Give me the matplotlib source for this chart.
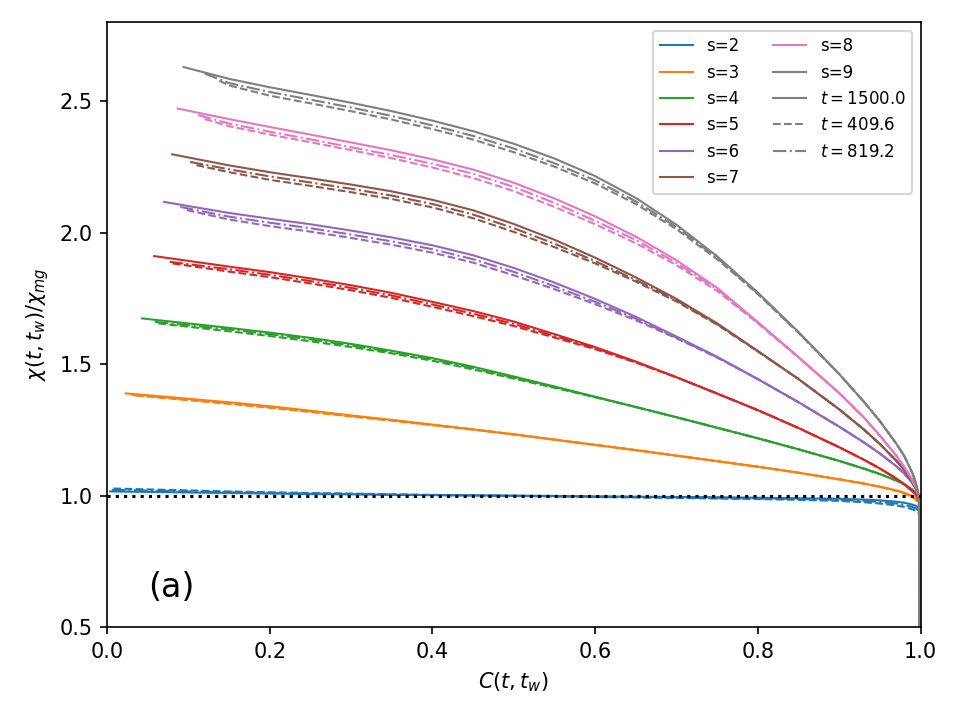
import numpy as np
import matplotlib
matplotlib.use('Agg')
import matplotlib.pyplot as plt
from matplotlib.lines import Line2D

# ---------------- data ----------------
s_values = [2, 3, 4, 5, 6, 7, 8, 9]
t_labels = ['$t = 1500.0$', '$t = 409.6$', '$t = 819.2$']

# common C(t,t_w) grid shared by all curves (after each curve's own start point)
C_grid = [0.15, 0.2, 0.25, 0.3, 0.35, 0.4, 0.45, 0.5, 0.55, 0.6, 0.65, 0.7, 0.75, 0.8,
          0.85, 0.9, 0.93, 0.95, 0.97, 0.98, 0.99, 0.995, 0.998, 0.999]

# start points, order [t=1500, t=819.2, t=409.6]
start_C_s2 = [0.004, 0.006, 0.008]
start_chi_s2 = [1.016, 1.022, 1.027]
start_C_s3 = [0.023, 0.030, 0.035]
start_chi_s3 = [1.389, 1.384, 1.381]
start_C_s4 = [0.043, 0.059, 0.063]
start_chi_s4 = [1.674, 1.661, 1.655]
start_C_s5 = [0.058, 0.077, 0.081]
start_chi_s5 = [1.911, 1.889, 1.883]
start_C_s6 = [0.070, 0.090, 0.098]
start_chi_s6 = [2.117, 2.098, 2.086]
start_C_s7 = [0.080, 0.102, 0.110]
start_chi_s7 = [2.298, 2.269, 2.257]
start_C_s8 = [0.087, 0.112, 0.120]
start_chi_s8 = [2.472, 2.447, 2.432]
start_C_s9 = [0.094, 0.120, 0.138]
start_chi_s9 = [2.630, 2.605, 2.578]

chi_s2_t1500 = [1.010, 1.008, 1.006, 1.005, 1.003, 1.002, 1.001, 1.000, 0.999, 0.997, 0.996, 0.995, 0.994, 0.992, 0.990, 0.988, 0.985, 0.982, 0.977, 0.973, 0.966, 0.960, 0.952, 0.0]
chi_s2_t819 = [1.013, 1.010, 1.008, 1.006, 1.004, 1.002, 1.001, 0.999, 0.998, 0.996, 0.995, 0.993, 0.991, 0.989, 0.987, 0.984, 0.980, 0.976, 0.970, 0.965, 0.957, 0.950, 0.942, 0.0]
chi_s2_t410 = [1.016, 1.013, 1.010, 1.008, 1.005, 1.003, 1.001, 0.999, 0.997, 0.995, 0.993, 0.991, 0.989, 0.987, 0.984, 0.980, 0.975, 0.970, 0.963, 0.957, 0.948, 0.940, 0.932, 0.0]

chi_s3_t1500 = [1.355, 1.340, 1.323, 1.305, 1.288, 1.270, 1.252, 1.233, 1.213, 1.193, 1.173, 1.152, 1.131, 1.110, 1.087, 1.062, 1.046, 1.034, 1.020, 1.011, 0.998, 0.988, 0.978, 0.0]
chi_s3_t819 = [1.352, 1.337, 1.321, 1.303, 1.287, 1.269, 1.252, 1.233, 1.213, 1.193, 1.173, 1.152, 1.131, 1.110, 1.087, 1.062, 1.046, 1.034, 1.020, 1.010, 0.996, 0.985, 0.975, 0.0]
chi_s3_t410 = [1.349, 1.334, 1.318, 1.301, 1.285, 1.268, 1.251, 1.233, 1.213, 1.193, 1.173, 1.152, 1.131, 1.110, 1.087, 1.062, 1.046, 1.033, 1.018, 1.008, 0.994, 0.982, 0.972, 0.0]

chi_s4_t1500 = [1.638, 1.620, 1.600, 1.577, 1.551, 1.523, 1.490, 1.453, 1.415, 1.376, 1.337, 1.298, 1.258, 1.218, 1.176, 1.132, 1.103, 1.082, 1.058, 1.043, 1.022, 1.005, 0.990, 0.0]
chi_s4_t819 = [1.632, 1.614, 1.594, 1.571, 1.546, 1.518, 1.485, 1.449, 1.413, 1.375, 1.337, 1.298, 1.258, 1.218, 1.176, 1.132, 1.103, 1.082, 1.058, 1.043, 1.022, 1.005, 0.990, 0.0]
chi_s4_t410 = [1.625, 1.607, 1.587, 1.565, 1.541, 1.513, 1.480, 1.445, 1.410, 1.374, 1.337, 1.298, 1.258, 1.218, 1.176, 1.132, 1.103, 1.082, 1.058, 1.043, 1.022, 1.005, 0.990, 0.0]

chi_s5_t1500 = [1.871, 1.850, 1.826, 1.800, 1.771, 1.737, 1.702, 1.662, 1.614, 1.565, 1.510, 1.450, 1.388, 1.325, 1.257, 1.184, 1.137, 1.103, 1.065, 1.043, 1.017, 1.000, 0.985, 0.0]
chi_s5_t819 = [1.861, 1.840, 1.816, 1.790, 1.761, 1.727, 1.692, 1.653, 1.607, 1.561, 1.508, 1.450, 1.388, 1.325, 1.257, 1.184, 1.137, 1.103, 1.065, 1.043, 1.017, 1.000, 0.985, 0.0]
chi_s5_t410 = [1.852, 1.831, 1.807, 1.781, 1.752, 1.718, 1.683, 1.645, 1.601, 1.557, 1.506, 1.450, 1.388, 1.325, 1.257, 1.184, 1.137, 1.103, 1.065, 1.043, 1.017, 1.000, 0.985, 0.0]

chi_s6_t1500 = [2.075, 2.053, 2.032, 2.008, 1.982, 1.952, 1.914, 1.866, 1.810, 1.748, 1.680, 1.605, 1.528, 1.443, 1.355, 1.262, 1.203, 1.160, 1.112, 1.084, 1.048, 1.022, 0.990, 0.0]
chi_s6_t819 = [2.061, 2.038, 2.017, 1.993, 1.967, 1.937, 1.899, 1.851, 1.796, 1.737, 1.673, 1.601, 1.526, 1.443, 1.355, 1.262, 1.203, 1.160, 1.112, 1.084, 1.048, 1.022, 0.990, 0.0]
chi_s6_t410 = [2.050, 2.025, 2.004, 1.980, 1.954, 1.924, 1.886, 1.838, 1.785, 1.728, 1.667, 1.598, 1.525, 1.443, 1.355, 1.262, 1.203, 1.160, 1.112, 1.084, 1.048, 1.022, 0.990, 0.0]

chi_s7_t1500 = [2.256, 2.230, 2.207, 2.183, 2.157, 2.125, 2.085, 2.033, 1.973, 1.905, 1.830, 1.748, 1.655, 1.550, 1.443, 1.328, 1.252, 1.196, 1.133, 1.097, 1.050, 1.020, 0.990, 0.0]
chi_s7_t819 = [2.241, 2.214, 2.191, 2.167, 2.141, 2.109, 2.069, 2.017, 1.958, 1.892, 1.820, 1.742, 1.652, 1.549, 1.443, 1.328, 1.252, 1.196, 1.133, 1.097, 1.050, 1.020, 0.990, 0.0]
chi_s7_t410 = [2.230, 2.201, 2.178, 2.154, 2.128, 2.096, 2.055, 2.003, 1.945, 1.883, 1.814, 1.738, 1.650, 1.548, 1.443, 1.328, 1.252, 1.196, 1.133, 1.097, 1.050, 1.020, 0.990, 0.0]

chi_s8_t1500 = [2.432, 2.402, 2.373, 2.343, 2.313, 2.279, 2.240, 2.190, 2.130, 2.062, 1.985, 1.895, 1.790, 1.660, 1.527, 1.390, 1.298, 1.228, 1.152, 1.108, 1.058, 1.025, 0.990, 0.0]
chi_s8_t819 = [2.415, 2.384, 2.355, 2.325, 2.295, 2.262, 2.224, 2.174, 2.113, 2.045, 1.972, 1.885, 1.785, 1.658, 1.526, 1.390, 1.298, 1.228, 1.152, 1.108, 1.058, 1.025, 0.990, 0.0]
chi_s8_t410 = [2.405, 2.373, 2.344, 2.314, 2.283, 2.248, 2.208, 2.158, 2.098, 2.032, 1.960, 1.876, 1.778, 1.655, 1.525, 1.390, 1.298, 1.228, 1.152, 1.108, 1.058, 1.025, 0.990, 0.0]

chi_s9_t1500 = [2.585, 2.553, 2.524, 2.494, 2.462, 2.426, 2.386, 2.338, 2.282, 2.215, 2.132, 2.030, 1.910, 1.772, 1.622, 1.462, 1.358, 1.283, 1.198, 1.150, 1.085, 1.040, 0.995, 0.0]
chi_s9_t819 = [2.569, 2.535, 2.506, 2.476, 2.444, 2.408, 2.368, 2.320, 2.264, 2.199, 2.119, 2.021, 1.904, 1.769, 1.620, 1.462, 1.358, 1.283, 1.198, 1.150, 1.085, 1.040, 0.995, 0.0]
chi_s9_t410 = [2.560, 2.521, 2.492, 2.462, 2.430, 2.394, 2.354, 2.306, 2.251, 2.187, 2.109, 2.013, 1.899, 1.766, 1.619, 1.462, 1.358, 1.283, 1.198, 1.150, 1.085, 1.040, 0.995, 0.0]

starts_C = [start_C_s2, start_C_s3, start_C_s4, start_C_s5, start_C_s6, start_C_s7, start_C_s8, start_C_s9]
starts_chi = [start_chi_s2, start_chi_s3, start_chi_s4, start_chi_s5, start_chi_s6, start_chi_s7, start_chi_s8, start_chi_s9]
curves_t1500 = [chi_s2_t1500, chi_s3_t1500, chi_s4_t1500, chi_s5_t1500, chi_s6_t1500, chi_s7_t1500, chi_s8_t1500, chi_s9_t1500]
curves_t819 = [chi_s2_t819, chi_s3_t819, chi_s4_t819, chi_s5_t819, chi_s6_t819, chi_s7_t819, chi_s8_t819, chi_s9_t819]
curves_t410 = [chi_s2_t410, chi_s3_t410, chi_s4_t410, chi_s5_t410, chi_s6_t410, chi_s7_t410, chi_s8_t410, chi_s9_t410]

# ---------------- plot ----------------
fig = plt.figure(figsize=(6.4, 4.8), dpi=150)
ax = fig.add_axes([0.1115, 0.129, 0.8475, 0.84])

colors = [f'C{i}' for i in range(8)]
for i, s in enumerate(s_values):
    c = colors[i]
    sets = [(curves_t1500[i], 0, '-'), (curves_t410[i], 2, '--'), (curves_t819[i], 1, '-.')]
    for ys, k, ls in sets:
        x = [starts_C[i][k]] + C_grid
        y = [starts_chi[i][k]] + ys
        ax.plot(x, y, color=c, ls=ls, lw=1.0)

ax.plot([0, 1], [1, 1], color='black', ls=':', lw=1.5)

ax.set_xlim(0, 1)
ax.set_ylim(0.5, 2.8)
ax.set_yticks([0.5, 1.0, 1.5, 2.0, 2.5])
ax.set_xlabel('$C(t,t_w)$')
ax.set_ylabel(r'$\chi(t,t_w)/\chi_{mg}$')
ax.text(0.05, 0.066, '(a)', transform=ax.transAxes, fontsize=16, va='center', ha='left')

handles = [Line2D([], [], color=colors[i], lw=1.0) for i in range(8)]
labels = [f's={s}' for s in s_values]
handles += [Line2D([], [], color='gray', ls='-', lw=1.0),
            Line2D([], [], color='gray', ls='--', lw=1.0),
            Line2D([], [], color='gray', ls='-.', lw=1.0)]
labels += t_labels
ax.legend(handles, labels, ncol=2, loc='upper right', fontsize=8)

fig.savefig('out.png', dpi=150)
